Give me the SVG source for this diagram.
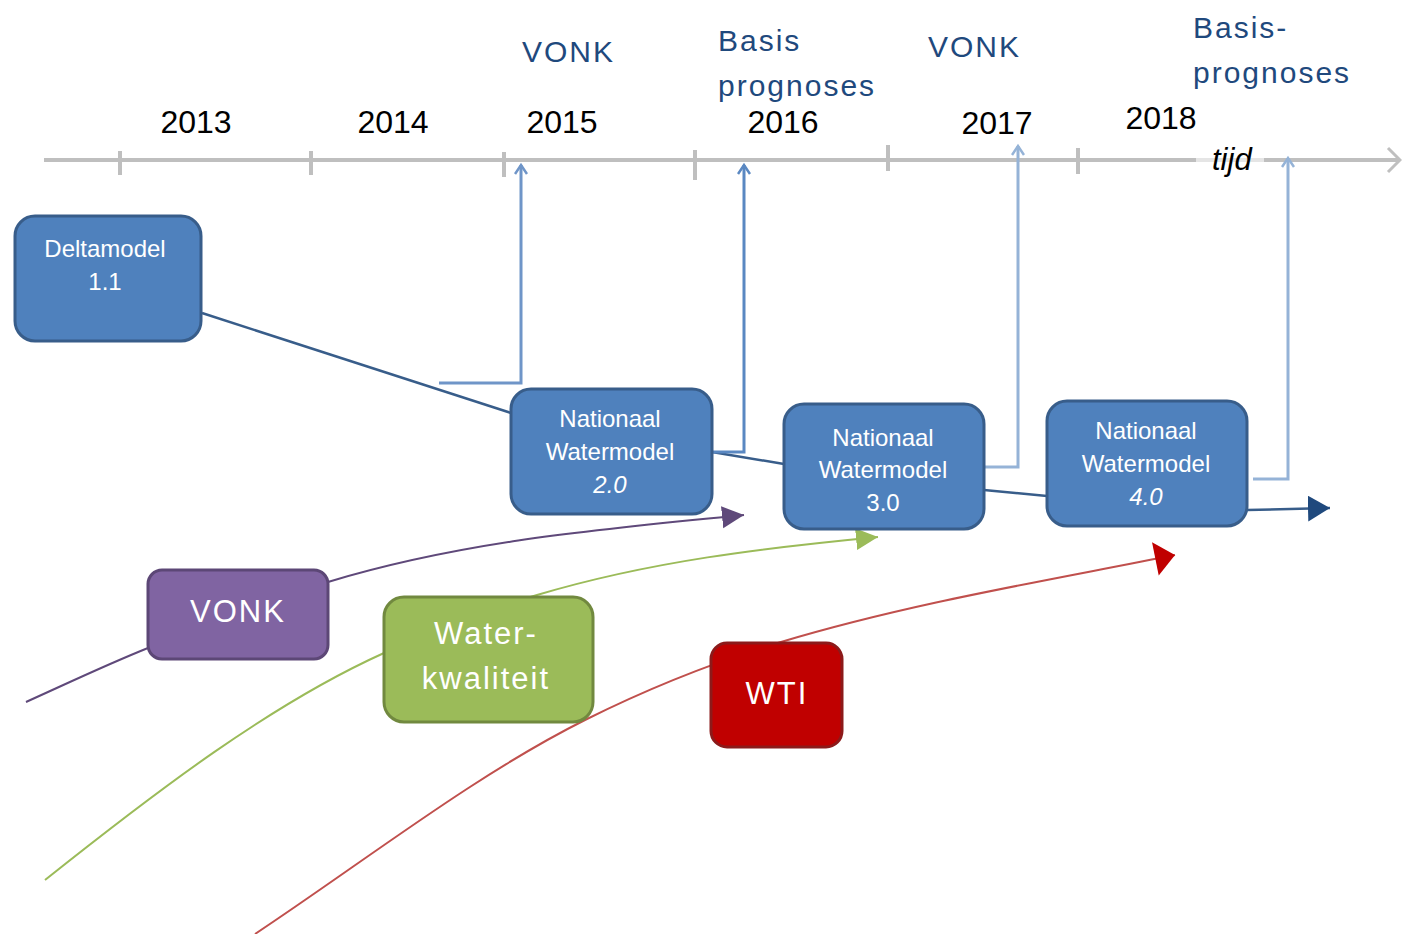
<svg xmlns="http://www.w3.org/2000/svg" width="1402" height="934" viewBox="0 0 1402 934">
<style>
.yr{font-family:"Liberation Sans",Arial,sans-serif;font-size:32px;fill:#000;text-anchor:middle}
.lbl{font-family:"Liberation Sans",Arial,sans-serif;font-size:30px;fill:#1F497D;letter-spacing:2px}
.nt{font-family:"Liberation Sans",Arial,sans-serif;font-size:24px;fill:#fff;text-anchor:middle}
.bt{font-family:"Liberation Sans",Arial,sans-serif;font-size:31px;fill:#fff;text-anchor:middle;letter-spacing:2px}
.blue{fill:#4F81BD;stroke:#385D8A;stroke-width:3}
.tick{stroke:#BFBFBF;stroke-width:4}
.elb{fill:none;stroke-width:3}
</style>
<defs>
<marker id="open" markerUnits="userSpaceOnUse" markerWidth="14" markerHeight="14" refX="11" refY="7" orient="auto" viewBox="0 0 14 14">
<path d="M2,1 L11,7 L2,13" fill="none" stroke="context-stroke" stroke-width="2.5"/>
</marker>
<marker id="mPurple" markerUnits="userSpaceOnUse" markerWidth="24" markerHeight="24" refX="22" refY="11" orient="auto" viewBox="0 0 24 24">
<path d="M0,0 L22,11 L0,22 z" fill="#5F497A"/>
</marker>
<marker id="mGreen" markerUnits="userSpaceOnUse" markerWidth="24" markerHeight="24" refX="22" refY="11" orient="auto" viewBox="0 0 24 24">
<path d="M0,0 L22,11 L0,22 z" fill="#9BBB59"/>
</marker>
<marker id="mRed" markerUnits="userSpaceOnUse" markerWidth="24" markerHeight="36" refX="22" refY="17" orient="auto" viewBox="0 0 24 36">
<path d="M2,0 L22,17 L2,34 z" fill="#C00000"/>
</marker>
<marker id="mBlue" markerUnits="userSpaceOnUse" markerWidth="24" markerHeight="28" refX="22" refY="13" orient="auto" viewBox="0 0 24 28">
<path d="M0,0 L22,13 L0,26 z" fill="#1F497D"/>
</marker>
</defs>
<rect width="1402" height="934" fill="#fff"/>

<g id="timeline">
<line x1="44" y1="160" x2="1398" y2="160" stroke="#BFBFBF" stroke-width="4"/>
<path d="M1388,148 L1400,160 L1388,172" fill="none" stroke="#BFBFBF" stroke-width="3"/>
<line class="tick" x1="120" y1="151" x2="120" y2="175"/>
<line class="tick" x1="311" y1="151" x2="311" y2="175"/>
<line class="tick" x1="504" y1="152" x2="504" y2="177"/>
<line class="tick" x1="695" y1="150" x2="695" y2="180"/>
<line class="tick" x1="888" y1="145" x2="888" y2="171"/>
<line class="tick" x1="1078" y1="148" x2="1078" y2="174"/>
<rect x="1196" y="152" width="68" height="18" fill="#fff" opacity="0.6"/>
<text x="1212" y="170" font-family="'Liberation Sans',Arial,sans-serif" font-size="31" font-style="italic" fill="#000">tijd</text>
</g>

<g id="labels">
<text class="yr" x="196" y="133">2013</text>
<text class="yr" x="393" y="133">2014</text>
<text class="yr" x="562" y="133">2015</text>
<text class="yr" x="783" y="133">2016</text>
<text class="yr" x="997" y="134">2017</text>
<text class="yr" x="1161" y="129">2018</text>
<text class="lbl" x="522" y="62">VONK</text>
<text class="lbl" x="718" y="51">Basis</text>
<text class="lbl" x="718" y="96">prognoses</text>
<text class="lbl" x="928" y="57">VONK</text>
<text class="lbl" x="1193" y="38">Basis-</text>
<text class="lbl" x="1193" y="83">prognoses</text>
</g>

<g id="connectors">
<path d="M26,702 C67,683.5 107,664.4 148,648 C208,624 268,600 328,582 C467,540 605,529 744,515" fill="none" stroke="#5F497A" stroke-width="2" marker-end="url(#mPurple)"/>
<path d="M45,880 C158,790 271,704 384,653 C435,630 486,610 537,595 C651,561 764,548 878,537" fill="none" stroke="#9BBB59" stroke-width="2" marker-end="url(#mGreen)"/>
<path d="M255,934 C365,861 475,775 585,720 C650,687.5 716,661.5 781,642 C911,603 1045,581 1175,555" fill="none" stroke="#C0504D" stroke-width="2" marker-end="url(#mRed)"/>
<line x1="202" y1="313" x2="511" y2="413" stroke="#385D8A" stroke-width="2.5"/>
<line x1="712" y1="452" x2="784" y2="464" stroke="#385D8A" stroke-width="2.5"/>
<line x1="984" y1="490" x2="1047" y2="496" stroke="#385D8A" stroke-width="2.5"/>
<line x1="1247" y1="510" x2="1330" y2="508" stroke="#385D8A" stroke-width="2.5" marker-end="url(#mBlue)"/>
<path class="elb" d="M439,383 L521,383 L521,165" stroke="#6F95C8" marker-end="url(#open)"/>
<path class="elb" d="M712,452 L744,452 L744,165" stroke="#5A88C2" marker-end="url(#open)"/>
<path class="elb" d="M984,467 L1018,467 L1018,146" stroke="#95B3D7" marker-end="url(#open)"/>
<path class="elb" d="M1253,479 L1288,479 L1288,158" stroke="#95B3D7" marker-end="url(#open)"/>
</g>

<g id="deltamodel">
<rect class="blue" x="15" y="216" width="186" height="125" rx="20"/>
<text class="nt" x="105" y="257">Deltamodel</text>
<text class="nt" x="105" y="290">1.1</text>
</g>
<g id="nwm20">
<rect class="blue" x="511" y="389" width="201" height="125" rx="20"/>
<text class="nt" x="610" y="427">Nationaal</text>
<text class="nt" x="610" y="460">Watermodel</text>
<text class="nt" x="610" y="493" font-style="italic">2.0</text>
</g>
<g id="nwm30">
<rect class="blue" x="784" y="404" width="200" height="125" rx="20"/>
<text class="nt" x="883" y="446">Nationaal</text>
<text class="nt" x="883" y="478">Watermodel</text>
<text class="nt" x="883" y="511">3.0</text>
</g>
<g id="nwm40">
<rect class="blue" x="1047" y="401" width="200" height="125" rx="20"/>
<text class="nt" x="1146" y="439">Nationaal</text>
<text class="nt" x="1146" y="472">Watermodel</text>
<text class="nt" x="1146" y="505" font-style="italic">4.0</text>
</g>
<g id="vonk">
<rect x="148" y="570" width="180" height="89" rx="14" fill="#8064A2" stroke="#5C4776" stroke-width="3"/>
<text class="bt" x="238" y="622">VONK</text>
</g>
<g id="waterkwaliteit">
<rect x="384" y="597" width="209" height="125" rx="20" fill="#9BBB59" stroke="#71893F" stroke-width="3"/>
<text class="bt" x="486" y="644">Water-</text>
<text class="bt" x="486" y="689">kwaliteit</text>
</g>
<g id="wti">
<rect x="711" y="643" width="131" height="104" rx="16" fill="#C00000" stroke="#8C1A1A" stroke-width="3"/>
<text class="bt" x="777" y="704">WTI</text>
</g>
</svg>
